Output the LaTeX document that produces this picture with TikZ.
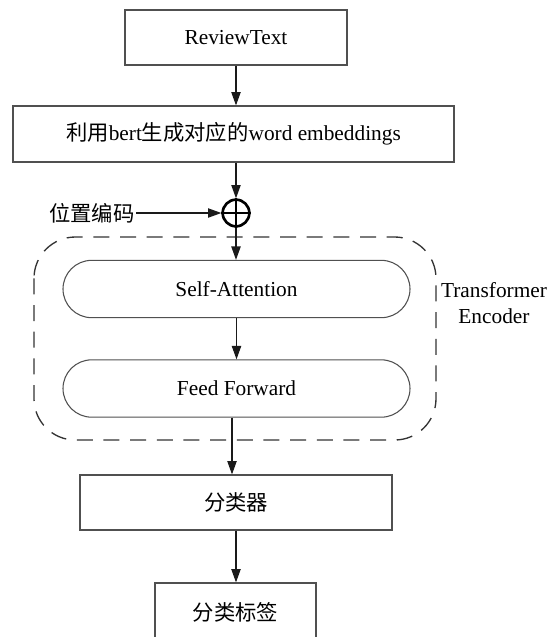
\documentclass[tikz,border=0pt]{standalone}
\usepackage{fontspec}
\setmainfont{Liberation Serif}
\newfontfamily\cjk{Noto Sans CJK SC}
\usetikzlibrary{arrows.meta}
\definecolor{boxColor}{HTML}{505050}
\definecolor{lineColor}{HTML}{1A1A1A}

\begin{document}
\begin{tikzpicture}[x=0.75pt, y=-0.75pt, >={Triangle[length=10pt, width=7pt]},
		font=\fontsize{16pt}{19pt}\selectfont,
		procBox/.style={draw=boxColor, line width=0.9pt, inner sep=0pt},
		layerBox/.style={draw=boxColor, line width=0.8pt, inner sep=0pt, rounded corners=21.5pt,
			minimum width=260.25pt, minimum height=43pt},
		flow/.style={->, lineColor, line width=0.8pt}]
		
		% --- 1. Fix the page size ---
		\useasboundingbox (0,0) rectangle (547,637);
		
		% --- 2. Input and embedding boxes ---
		\node[procBox, minimum width=166.5pt, minimum height=41.25pt] (review) at (236, 37.5) {ReviewText};
		\node[procBox, minimum width=330.75pt, minimum height=42pt] (embed) at (233.5, 134)
			{{\cjk 利用}bert{\cjk 生成对应的}word embeddings};
		
		% --- 3. Positional encoding added ---
		\node[circle, draw=black, line width=2pt, minimum size=20pt, inner sep=0pt] (plus) at (236, 213) {};
		\draw[line width=1.8pt] (plus.north) -- (plus.south) (plus.west) -- (plus.east);
		\node[anchor=east, inner sep=1pt] (posEnc) at (136, 213) {\cjk 位置编码};
		
		% --- 4. Transformer encoder block ---
		\draw[black!80, line width=1pt, dash pattern=on 12pt off 8pt, rounded corners=31pt]
			(34, 237) rectangle (436, 440);
		\node[layerBox] (attn) at (236.5, 289) {Self-Attention};
		\node[layerBox] (ffn) at (236.5, 388.5) {Feed Forward};
		\node[align=center, inner sep=0pt] (encName) at (494, 303) {Transformer\\Encoder};
		
		% --- 5. Output boxes ---
		\node[procBox, minimum width=234pt, minimum height=41.25pt] (cls) at (236, 502.5) {\cjk 分类器};
		\node[procBox, minimum width=120.75pt, minimum height=43.5pt] (label) at (235.5, 612) {\cjk 分类标签};
		
		% --- 6. Connectors ---
		\draw[flow] (review.south) -- (review.south |- embed.north);
		\draw[flow] (plus |- embed.south) -- (plus);
		\draw[flow] (posEnc) -- (plus);
		\draw[flow] (plus) -- (plus |- attn.north);
		\draw[flow] (attn) -- (ffn);
		\draw[flow] (ffn.south) ++(-4.5,0) coordinate (ffnOut) -- (ffnOut |- cls.north);
		\draw[flow] (cls.south) -- (cls.south |- label.north);
		
\end{tikzpicture}
\end{document}
